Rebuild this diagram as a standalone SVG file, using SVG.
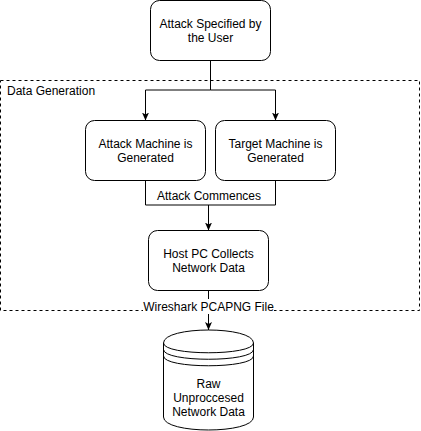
<svg xmlns="http://www.w3.org/2000/svg" width="421" height="431" viewBox="0 0 421 431">
<style>
.box{fill:#fff;stroke:#000;stroke-width:1}
.t{font-family:"Liberation Sans",Arial,Helvetica,sans-serif;font-size:12px;fill:#000;text-anchor:middle}
.edge{fill:none;stroke:#000;stroke-width:1}
</style>
<defs>
<marker id="arr" markerUnits="userSpaceOnUse" viewBox="0 0 8 7" refX="8" refY="3.5" markerWidth="8" markerHeight="7" orient="auto">
<path d="M0,0 L8,3.5 L0,7 L2,3.5 Z" fill="#000"/>
</marker>
</defs>
<rect x="0" y="0" width="421" height="431" fill="#fff"/>
<g id="container">
<rect x="0.5" y="80.5" width="419" height="230" fill="none" stroke="#000" stroke-dasharray="3 3"/>
<text class="t" x="7" y="95" style="text-anchor:start">Data Generation</text>
</g>
<g id="connectors">
<path class="edge" d="M210.5,60.5 V90 H145.5 V120.5" marker-end="url(#arr)"/>
<path class="edge" d="M210.5,90 H275.5 V120.5" marker-end="url(#arr)"/>
<path class="edge" d="M145.5,180.5 V205 H275.5 V180.5"/>
<path class="edge" d="M208.5,205 V230.5" marker-end="url(#arr)"/>
<text class="t" x="209" y="200">Attack Commences</text>
<path class="edge" d="M208.5,290.5 V330" marker-end="url(#arr)"/>
<rect x="143" y="299" width="131" height="15" fill="#fff"/>
<text class="t" x="208.5" y="310.5">Wireshark PCAPNG File</text>
</g>
<g id="attack-specified">
<rect class="box" x="150.5" y="0.5" width="120" height="60" rx="9"/>
<text class="t" x="210.5" y="28">Attack Specified by</text>
<text class="t" x="210.5" y="42">the User</text>
</g>
<g id="attack-machine">
<rect class="box" x="85.5" y="120.5" width="120" height="60" rx="9"/>
<text class="t" x="145.5" y="148">Attack Machine is</text>
<text class="t" x="145.5" y="162">Generated</text>
</g>
<g id="target-machine">
<rect class="box" x="215.5" y="120.5" width="120" height="60" rx="9"/>
<text class="t" x="275.5" y="148">Target Machine is</text>
<text class="t" x="275.5" y="162">Generated</text>
</g>
<g id="host-pc">
<rect class="box" x="148.5" y="230.5" width="120" height="60" rx="9"/>
<text class="t" x="208.5" y="258">Host PC Collects</text>
<text class="t" x="208.5" y="272">Network Data</text>
</g>
<g id="raw-data">
<path class="box" d="M163.5,343 C163.5,325.67 253.5,325.67 253.5,343 L253.5,417 C253.5,434.33 163.5,434.33 163.5,417 Z"/>
<path class="edge" d="M163.5,343 C163.5,356 253.5,356 253.5,343 M163.5,349.5 C163.5,362.5 253.5,362.5 253.5,349.5 M163.5,356 C163.5,369 253.5,369 253.5,356"/>
<text class="t" x="208.5" y="388">Raw</text>
<text class="t" x="208.5" y="402">Unproccesed</text>
<text class="t" x="208.5" y="416">Network Data</text>
</g>
</svg>
